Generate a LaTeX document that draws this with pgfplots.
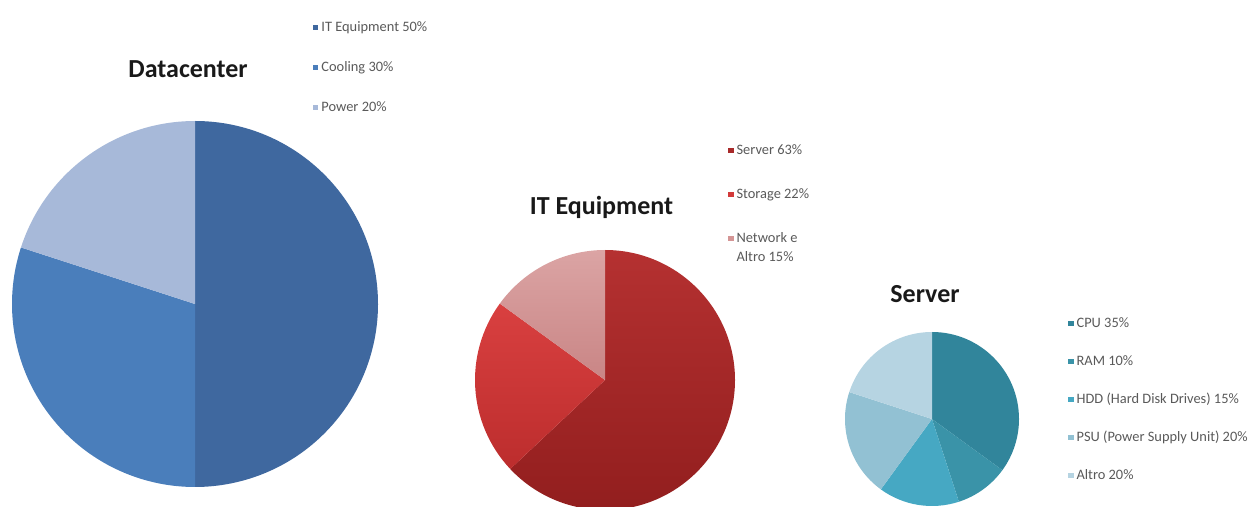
\documentclass[border=0pt]{standalone}
\usepackage{fontspec}
\setmainfont{Carlito}
\usepackage{pgfplots}
\pgfplotsset{compat=1.18}

% Datacenter
\definecolor{dcIT}{HTML}{3F689F}
\definecolor{dcCool}{HTML}{4A7EBB}
\definecolor{dcPow}{HTML}{A7B9D9}
% IT Equipment
\definecolor{itSrv}{HTML}{A82A2A}
\definecolor{itSrvTop}{HTML}{B53131}
\definecolor{itSrvBot}{HTML}{921E1E}
\definecolor{itSto}{HTML}{D23A3A}
\definecolor{itStoTop}{HTML}{D94040}
\definecolor{itStoBot}{HTML}{BC2D2D}
\definecolor{itNet}{HTML}{D49595}
\definecolor{itNetTop}{HTML}{DBA4A4}
\definecolor{itNetBot}{HTML}{C98585}
% Server
\definecolor{svCPU}{HTML}{31859B}
\definecolor{svRAM}{HTML}{3A93A8}
\definecolor{svHDD}{HTML}{46A8C3}
\definecolor{svPSU}{HTML}{92C1D3}
\definecolor{svAltro}{HTML}{B6D4E2}

% slice: start (%), value (%), style, radius
\newcommand{\pieslice}[4]{%
  \path[#3] (axis cs:0,0) -- ++({90-3.6*#1}:#4)
    arc[start angle={90-3.6*#1}, delta angle={-3.6*#2}, radius=#4] -- cycle;}

\pgfplotsset{
  pie/.style={
    hide axis, scale only axis, clip=false, anchor=center,
    xmin=-1, xmax=1, ymin=-1, ymax=1,
    every axis title shift=0pt,
    title style={font=\bfseries\fontsize{13}{15}\selectfont, text=black!90,
      anchor=base, inner sep=0pt},
    legend cell align=left,
    legend image code/.code={\fill[##1, draw=none] (0pt,0.9pt) rectangle (2.6pt,3.5pt);},
    legend style={draw=none, fill=none, inner sep=0pt, anchor=north west,
      font=\fontsize{7.2}{9.5}\selectfont, text=black!65, column sep=1.5pt,
      nodes={inner sep=0pt, text height=5.5pt, text depth=2pt},
      cells={anchor=base west}},
  },
}

\begin{document}
\begin{tikzpicture}
% 1 px of the reference = 0.5pt, origin at the top left corner
\useasboundingbox (0pt,0pt) rectangle (629pt,-253.5pt);

\begin{axis}[pie, at={(97.5pt,-152pt)}, width=183pt, height=183pt,
  title={Datacenter}, title style={at={(0.481,1.1175)}},
  legend style={at={(0.822,1.275)}, row sep=12.5pt}]
  \pieslice{0}{50}{fill=dcIT}{91.5pt}
  \pieslice{50}{30}{fill=dcCool}{91.5pt}
  \pieslice{80}{20}{fill=dcPow}{91.5pt}
  \addlegendimage{fill=dcIT}\addlegendentry{IT Equipment 50\%}
  \addlegendimage{fill=dcCool}\addlegendentry{Cooling 30\%}
  \addlegendimage{fill=dcPow}\addlegendentry{Power 20\%}
\end{axis}

\begin{axis}[pie, at={(302.5pt,-190pt)}, width=130pt, height=130pt,
  title={IT Equipment}, title style={at={(0.4865,1.138)}},
  legend style={at={(0.973,1.410)}, row sep=14.5pt}]
  \pieslice{0}{63}{top color=itSrvTop, bottom color=itSrvBot}{65pt}
  \pieslice{63}{22}{top color=itStoTop, bottom color=itStoBot}{65pt}
  \pieslice{85}{15}{top color=itNetTop, bottom color=itNetBot}{65pt}
  \addlegendimage{fill=itSrv}\addlegendentry{Server 63\%}
  \addlegendimage{fill=itSto}\addlegendentry{Storage 22\%}
  \addlegendimage{fill=itNet}\addlegendentry{\begin{tabular}[t]{@{}l@{}}Network e\\Altro 15\%\end{tabular}}
\end{axis}

\begin{axis}[pie, at={(466pt,-209.5pt)}, width=87pt, height=87pt,
  title={Server}, title style={at={(0.46,1.172)}},
  legend style={at={(1.2816,1.0897)}, row sep=11.5pt}]
  \pieslice{0}{35}{fill=svCPU}{43.5pt}
  \pieslice{35}{10}{fill=svRAM}{43.5pt}
  \pieslice{45}{15}{fill=svHDD}{43.5pt}
  \pieslice{60}{20}{fill=svPSU}{43.5pt}
  \pieslice{80}{20}{fill=svAltro}{43.5pt}
  \addlegendimage{fill=svCPU}\addlegendentry{CPU 35\%}
  \addlegendimage{fill=svRAM}\addlegendentry{RAM 10\%}
  \addlegendimage{fill=svHDD}\addlegendentry{HDD (Hard Disk Drives) 15\%}
  \addlegendimage{fill=svPSU}\addlegendentry{PSU (Power Supply Unit) 20\%}
  \addlegendimage{fill=svAltro}\addlegendentry{Altro 20\%}
\end{axis}
\end{tikzpicture}
\end{document}
